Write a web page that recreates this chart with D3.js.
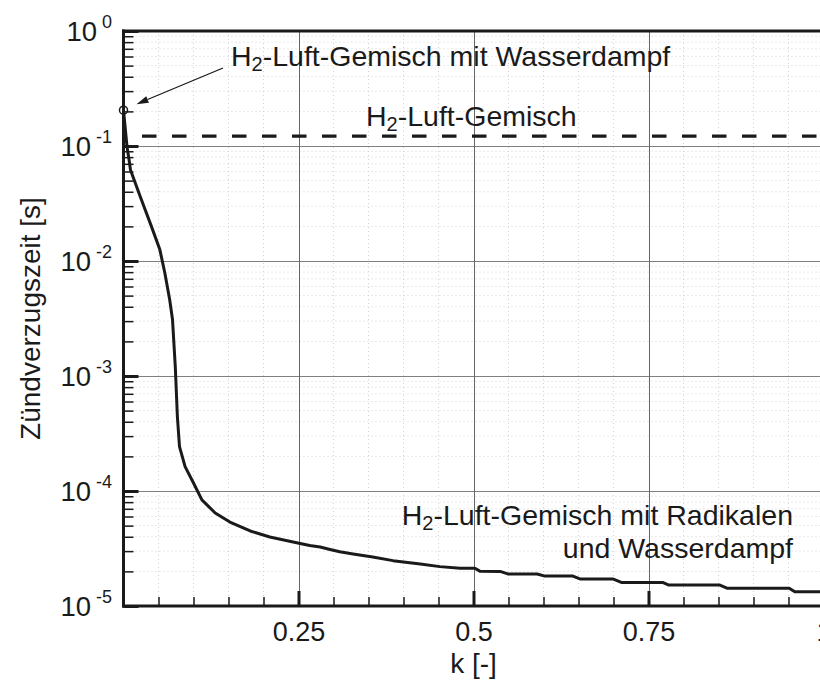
<!DOCTYPE html>
<html>
<head>
<meta charset="utf-8">
<script src="https://cdn.jsdelivr.net/npm/d3@7"></script>
<style>
  html, body { margin: 0; padding: 0; background: #fff; }
  svg { display: block; }
  text { font-family: "Liberation Sans", Arial, Helvetica, sans-serif; fill: #1a1a1a; }
</style>
</head>
<body>
<svg id="chart" width="820" height="692"></svg>
<script>
// ---- data ----
const kValues = [0, 0.005, 0.008, 0.010, 0.024, 0.040, 0.052, 0.059, 0.066, 0.070, 0.074, 0.077, 0.080, 0.088, 0.100, 0.112, 0.131, 0.152, 0.181, 0.209, 0.249, 0.266, 0.281, 0.295, 0.309, 0.328, 0.356, 0.385, 0.424, 0.452, 0.481, 0.502, 0.509, 0.538, 0.549, 0.591, 0.602, 0.642, 0.652, 0.699, 0.712, 0.771, 0.779, 0.852, 0.862, 0.951, 0.959, 1.0];
const tRadikale = [0.205, 0.0986, 0.0755, 0.0618, 0.0362, 0.0199, 0.0125, 0.0079, 0.0046, 0.0031, 0.0012, 0.00044, 0.000243, 0.000163, 0.0001175, 8.36e-5, 6.44e-5, 5.37e-5, 4.49e-5, 3.98e-5, 3.53e-5, 3.36e-5, 3.26e-5, 3.10e-5, 2.96e-5, 2.83e-5, 2.67e-5, 2.48e-5, 2.32e-5, 2.20e-5, 2.13e-5, 2.13e-5, 2.01e-5, 2.0e-5, 1.90e-5, 1.90e-5, 1.82e-5, 1.82e-5, 1.72e-5, 1.72e-5, 1.60e-5, 1.60e-5, 1.52e-5, 1.52e-5, 1.43e-5, 1.43e-5, 1.33e-5, 1.33e-5];
const tLuft = 0.122;            // H2-Luft-Gemisch (constant)
const markerK = 0, markerT = 0.205; // H2-Luft-Gemisch mit Wasserdampf
const kTicks = [0.25, 0.5, 0.75, 1];
const kTickLabels = ["0.25", "0.5", "0.75", "1"];
const tDecades = [1e-5, 1e-4, 1e-3, 1e-2, 1e-1, 1];
const tExponents = ["-5", "-4", "-3", "-2", "-1", "0"];
const xTitle = "k [-]";
const yTitle = "Zündverzugszeit [s]";

// ---- layout ----
const svg = d3.select("#chart");
const L = 123.5, R = 823.5, T = 31, B = 606;
const x = d3.scaleLinear().domain([0, 1]).range([L, R]);
const y = d3.scaleLog().domain([1e-5, 1]).range([B, T]);

const kMinor = d3.range(1, 20).map(i => i * 0.05).filter(v => Math.abs(v / 0.25 - Math.round(v / 0.25)) > 1e-6);
const tMinor = [];
tDecades.slice(0, -1).forEach(d => { for (let m = 2; m <= 9; m++) tMinor.push(d * m); });

// minor dotted grid
svg.append("g").selectAll("line").data(tMinor).join("line")
  .attr("x1", L).attr("x2", R).attr("y1", d => y(d)).attr("y2", d => y(d))
  .attr("stroke", "#d2d2d2").attr("stroke-width", 1).attr("stroke-dasharray", "1,3");
svg.append("g").selectAll("line").data(kMinor).join("line")
  .attr("x1", d => x(d)).attr("x2", d => x(d)).attr("y1", T).attr("y2", B)
  .attr("stroke", "#d2d2d2").attr("stroke-width", 1).attr("stroke-dasharray", "1,3");

// major grid
svg.append("g").selectAll("line").data(tDecades.slice(1, -1)).join("line")
  .attr("x1", L).attr("x2", R).attr("y1", d => Math.round(y(d)) + 0.5).attr("y2", d => Math.round(y(d)) + 0.5)
  .attr("stroke", "#808080").attr("stroke-width", 1);
svg.append("g").selectAll("line").data(kTicks.slice(0, -1)).join("line")
  .attr("x1", d => Math.round(x(d)) + 0.5).attr("x2", d => Math.round(x(d)) + 0.5).attr("y1", T).attr("y2", B)
  .attr("stroke", "#666").attr("stroke-width", 1);

// axes ticks (inward)
const gLeftMinor = svg.append("g").attr("transform", `translate(${L},0)`)
  .call(d3.axisLeft(y).tickValues(tMinor).tickSize(-10).tickFormat(""));
gLeftMinor.select(".domain").remove();
gLeftMinor.selectAll("line").attr("stroke", "#1a1a1a").attr("stroke-width", 1.5);
const gLeftMajor = svg.append("g").attr("transform", `translate(${L},0)`)
  .call(d3.axisLeft(y).tickValues(tDecades).tickSize(-15).tickFormat(""));
gLeftMajor.select(".domain").remove();
gLeftMajor.selectAll("line").attr("stroke", "#1a1a1a").attr("stroke-width", 3);

const gBotMinor = svg.append("g").attr("transform", `translate(0,${B})`)
  .call(d3.axisBottom(x).tickValues(kMinor).tickSize(-9).tickFormat(""));
gBotMinor.select(".domain").remove();
gBotMinor.selectAll("line").attr("stroke", "#1a1a1a").attr("stroke-width", 1.5);
const gBotMajor = svg.append("g").attr("transform", `translate(0,${B})`)
  .call(d3.axisBottom(x).tickValues(kTicks).tickSize(-15).tickPadding(16)
    .tickFormat((d, i) => kTickLabels[i]));
gBotMajor.select(".domain").remove();
gBotMajor.selectAll("line").attr("stroke", "#1a1a1a").attr("stroke-width", 3);
gBotMajor.selectAll("text").attr("font-size", 27).attr("fill", "#1a1a1a")
  .attr("font-family", "Liberation Sans, Arial, sans-serif");

// frame
svg.append("line").attr("x1", L).attr("x2", L).attr("y1", T - 1.5).attr("y2", B + 1.5)
  .attr("stroke", "#1a1a1a").attr("stroke-width", 3);
svg.append("line").attr("x1", L - 1.5).attr("x2", R + 1.5).attr("y1", B).attr("y2", B)
  .attr("stroke", "#1a1a1a").attr("stroke-width", 3);
svg.append("line").attr("x1", L - 1.5).attr("x2", R + 1.5).attr("y1", T).attr("y2", T)
  .attr("stroke", "#1a1a1a").attr("stroke-width", 3);
svg.append("line").attr("x1", R).attr("x2", R).attr("y1", T).attr("y2", B)
  .attr("stroke", "#1a1a1a").attr("stroke-width", 3);

// y tick labels 10^n
const yl = svg.append("g").selectAll("text").data(tDecades).join("text")
  .attr("x", 112).attr("y", d => y(d) + 10).attr("text-anchor", "end").attr("font-size", 27.5);
yl.append("tspan").text("10");
yl.append("tspan").attr("dx", 5).attr("dy", -13).attr("font-size", 18).text((d, i) => tExponents[i]);

// axis titles
svg.append("text").attr("x", (L + R) / 2).attr("y", 673).attr("text-anchor", "middle")
  .attr("font-size", 28).text(xTitle);
svg.append("text").attr("transform", `translate(40,${(y(1e-1) + y(1e-4)) / 2}) rotate(-90)`)
  .attr("text-anchor", "middle").attr("font-size", 28).text(yTitle);

// dashed line: H2-Luft-Gemisch
svg.append("line").attr("x1", x(0)).attr("x2", R).attr("y1", y(tLuft)).attr("y2", y(tLuft))
  .attr("stroke", "#1a1a1a").attr("stroke-width", 3.2)
  .attr("stroke-dasharray", "14.5,15.5").attr("stroke-dashoffset", 11.5);

// main curve
const pts = kValues.map((k, i) => [k, tRadikale[i]]);
svg.append("path").datum(pts)
  .attr("d", d3.line().x(d => x(d[0])).y(d => y(d[1])))
  .attr("fill", "none").attr("stroke", "#1a1a1a").attr("stroke-width", 3)
  .attr("stroke-linejoin", "round");

// marker
svg.append("circle").attr("cx", x(markerK)).attr("cy", y(markerT)).attr("r", 4)
  .attr("fill", "none").attr("stroke", "#1a1a1a").attr("stroke-width", 1.5);

// arrow
const mx = x(markerK), my = y(markerT);
const tip = [mx + 13, my - 6], tail = [223, 68];
const ang = Math.atan2(tip[1] - tail[1], tip[0] - tail[0]);
const hl = 12, hw = 3.5;
const base = [tip[0] - hl * Math.cos(ang), tip[1] - hl * Math.sin(ang)];
svg.append("line").attr("x1", tail[0]).attr("y1", tail[1]).attr("x2", base[0]).attr("y2", base[1])
  .attr("stroke", "#1a1a1a").attr("stroke-width", 1.3);
svg.append("path").attr("d", d3.line()([
  tip,
  [base[0] + hw * Math.sin(ang), base[1] - hw * Math.cos(ang)],
  [base[0] - hw * Math.sin(ang), base[1] + hw * Math.cos(ang)]
]) + "Z").attr("fill", "#1a1a1a");

// annotations
function h2Label(xp, yp, rest, anchor) {
  const t = svg.append("text").attr("x", xp).attr("y", yp).attr("font-size", 28.5)
    .attr("text-anchor", anchor || "start");
  t.append("tspan").text("H");
  t.append("tspan").attr("font-size", 20).attr("dy", 5).text("2");
  t.append("tspan").attr("dy", -5).text(rest);
  return t;
}
h2Label(231, 66, "-Luft-Gemisch mit Wasserdampf");
h2Label(366, 126, "-Luft-Gemisch");
h2Label(793, 525, "-Luft-Gemisch mit Radikalen", "end");
svg.append("text").attr("x", 793).attr("y", 558).attr("text-anchor", "end")
  .attr("font-size", 28.5).text("und Wasserdampf");
</script>
</body>
</html>
